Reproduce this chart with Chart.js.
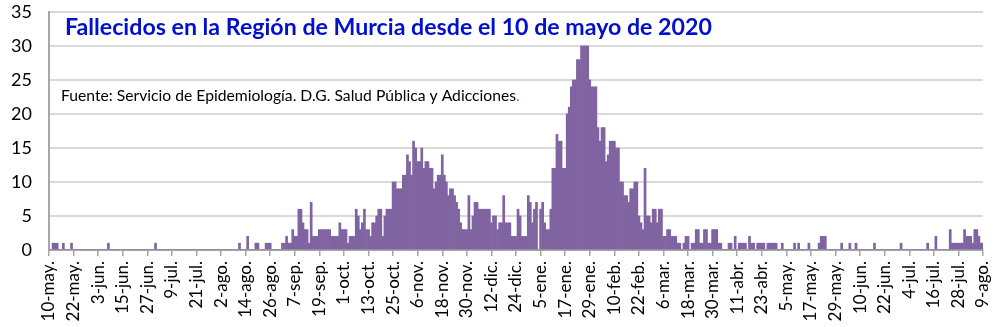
<!DOCTYPE html>
<html lang="es">
<head>
<meta charset="utf-8">
<title>Fallecidos en la Región de Murcia</title>
<script src="https://cdn.jsdelivr.net/npm/chart.js@4.4.1/dist/chart.umd.min.js"></script>
<style>
  html, body { margin: 0; padding: 0; background: #fff; }
  #contenedor { width: 1000px; height: 327px; }
</style>
</head>
<body>
<div id="contenedor"><canvas id="graficaFallecidos" width="1000" height="327"></canvas></div>
<script>
// Textos de la grafica
const titulo = "Fallecidos en la Región de Murcia desde el 10 de mayo de 2020";
const fuente = "Fuente: Servicio de Epidemiología. D.G. Salud Pública y Adicciones";

// Etiquetas del eje X (una cada 12 dias, desde el 10 de mayo de 2020)
const pasoEtiquetas = 12;
const etiquetasFecha = [
    "10-may.", "22-may.", "3-jun.", "15-jun.", "27-jun.", "9-jul.", "21-jul.", "2-ago.",
    "14-ago.", "26-ago.", "7-sep.", "19-sep.", "1-oct.", "13-oct.", "25-oct.", "6-nov.",
    "18-nov.", "30-nov.", "12-dic.", "24-dic.", "5-ene.", "17-ene.", "29-ene.", "10-feb.",
    "22-feb.", "6-mar.", "18-mar.", "30-mar.", "11-abr.", "23-abr.", "5-may.", "17-may.",
    "29-may.", "10-jun.", "22-jun.", "4-jul.", "16-jul.", "28-jul.", "9-ago."
];

// Eje Y
const maxEjeY = 35;
const pasoEjeY = 5;

// Fallecidos diarios (una fila = 12 dias, empezando en cada etiqueta)
const fallecidos = [
    0, 0, 1, 1, 1, 0, 0, 1, 0, 0, 0, 1,          // 10-may
    0, 0, 0, 0, 0, 0, 0, 0, 0, 0, 0, 0,          // 22-may
    0, 0, 0, 0, 0, 1, 0, 0, 0, 0, 0, 0,          // 3-jun
    0, 0, 0, 0, 0, 0, 0, 0, 0, 0, 0, 0,          // 15-jun
    0, 0, 0, 0, 1, 0, 0, 0, 0, 0, 0, 0,          // 27-jun
    0, 0, 0, 0, 0, 0, 0, 0, 0, 0, 0, 0,          // 9-jul
    0, 0, 0, 0, 0, 0, 0, 0, 0, 0, 0, 0,          // 21-jul
    0, 0, 0, 0, 0, 0, 0, 0, 0, 1, 0, 0,          // 2-ago
    0, 2, 0, 0, 0, 1, 1, 0, 0, 0, 1, 1,          // 14-ago
    1, 0, 0, 0, 0, 0, 1, 1, 2, 1, 1, 3,          // 26-ago
    2, 2, 6, 6, 4, 3, 3, 1, 7, 2, 2, 2,          // 7-sep
    3, 3, 3, 3, 3, 3, 2, 2, 2, 2, 4, 3,          // 19-sep
    3, 3, 1, 2, 2, 2, 6, 5, 3, 4, 6, 3,          // 1-oct
    3, 2, 4, 4, 5, 6, 6, 2, 5, 6, 6, 6,          // 13-oct
    10, 10, 9, 9, 9, 11, 11, 14, 13, 11, 16, 15, // 25-oct
    13, 13, 15, 12, 13, 13, 12, 12, 9, 10, 11, 11, // 6-nov
    14, 11, 10, 8, 9, 9, 8, 7, 6, 4, 3, 3,       // 18-nov
    3, 8, 3, 5, 7, 7, 6, 6, 6, 6, 6, 6,          // 30-nov
    4, 5, 5, 3, 4, 4, 8, 4, 4, 4, 2, 2,          // 12-dic
    2, 6, 5, 2, 2, 2, 8, 7, 4, 6, 7, 0,          // 24-dic
    6, 7, 4, 3, 3, 6, 12, 12, 17, 16, 16, 12,    // 5-ene
    12, 20, 21, 24, 25, 25, 28, 28, 30, 30, 30, 30, // 17-ene
    25, 24, 24, 24, 18, 16, 18, 18, 13, 14, 16, 16, // 29-ene
    16, 15, 15, 10, 10, 8, 8, 7, 9, 9, 10, 10,   // 10-feb
    5, 4, 3, 12, 5, 5, 4, 6, 6, 4, 6, 6,         // 22-feb
    2, 2, 3, 3, 2, 2, 2, 1, 1, 0, 1, 2,          // 6-mar
    2, 0, 1, 1, 3, 3, 1, 1, 3, 3, 1, 1,          // 18-mar
    3, 3, 3, 1, 1, 0, 0, 0, 1, 1, 0, 2,          // 30-mar
    0, 1, 1, 1, 1, 0, 2, 1, 1, 0, 1, 1,          // 11-abr
    1, 1, 0, 1, 1, 1, 1, 1, 0, 0, 1, 0,          // 23-abr
    0, 0, 0, 0, 1, 0, 1, 0, 0, 0, 0, 1,          // 5-may
    0, 0, 0, 0, 1, 2, 2, 2, 0, 0, 0, 0,          // 17-may
    0, 0, 0, 1, 0, 0, 0, 1, 0, 0, 1, 0,          // 29-may
    0, 0, 0, 0, 0, 0, 0, 1, 0, 0, 0, 0,          // 10-jun
    0, 0, 0, 0, 0, 0, 0, 0, 1, 0, 0, 0,          // 22-jun
    0, 0, 0, 0, 0, 0, 0, 0, 0, 1, 0, 0,          // 4-jul
    0, 2, 0, 0, 0, 0, 0, 0, 3, 1, 1, 1,          // 16-jul
    1, 1, 1, 3, 2, 2, 2, 1, 3, 3, 2, 1,          // 28-jul
    1                                            // 9-ago
];

const colorBarras = '#8064A2';
const colorEje = '#A6A6A6';
const colorRejilla = '#D9D9D9';

// Ajusta el tamaño de letra para que el texto ocupe el ancho indicado
function fuenteAjustada(ctx, texto, peso, familia, ancho) {
    ctx.font = `${peso} 20px ${familia}`;
    const tam = 20 * ancho / ctx.measureText(texto).width;
    return `${peso} ${tam.toFixed(2)}px ${familia}`;
}

// Titulo y fuente dibujados dentro del area del grafico
const textosInternos = {
    id: 'textosInternos',
    afterDraw(chart) {
        const ctx = chart.ctx;
        ctx.save();
        ctx.textBaseline = 'alphabetic';
        ctx.textAlign = 'left';

        ctx.font = fuenteAjustada(ctx, titulo, 'bold', 'Lato', 647);
        ctx.fillStyle = '#0010CC';
        ctx.fillText(titulo, 65, 35);

        ctx.font = fuenteAjustada(ctx, fuente, 'normal', 'Lato', 455);
        ctx.fillStyle = '#000000';
        ctx.fillText(fuente, 61, 101);
        const anchoFuente = ctx.measureText(fuente).width;
        ctx.fillStyle = '#E46C0A';
        ctx.fillText('.', 61 + anchoFuente, 101);
        ctx.restore();
    }
};

const ctx = document.getElementById('graficaFallecidos').getContext('2d');

new Chart(ctx, {
    type: 'bar',
    data: {
        datasets: [{
            label: 'Fallecidos',
            data: fallecidos.map((valor, dia) => ({ x: dia, y: valor })),
            backgroundColor: colorBarras,
            borderWidth: 0,
            barPercentage: 1,
            categoryPercentage: 1
        }]
    },
    options: {
        responsive: false,
        animation: false,
        devicePixelRatio: 1,
        layout: { padding: { top: 12, right: 17, left: 0, bottom: 0 } },
        plugins: {
            legend: { display: false },
            tooltip: { enabled: false }
        },
        scales: {
            x: {
                type: 'linear',
                offset: false,
                min: 0,
                max: (etiquetasFecha.length - 1) * pasoEtiquetas,
                afterFit: (escala) => {
                    escala.height = 77;
                    escala.paddingLeft = 0;
                    escala.paddingRight = 0;
                },
                border: { display: true, color: colorEje, width: 2 },
                grid: {
                    offset: false,
                    drawOnChartArea: false,
                    drawTicks: true,
                    tickLength: 6,
                    color: colorEje,
                    tickColor: colorEje,
                    lineWidth: 1.5
                },
                ticks: {
                    stepSize: pasoEtiquetas,
                    maxTicksLimit: etiquetasFecha.length,
                    autoSkip: false,
                    minRotation: 90,
                    maxRotation: 90,
                    padding: 5,
                    color: '#000000',
                    font: { family: 'Lato', size: 17 },
                    callback: (valor) => etiquetasFecha[Math.round(valor / pasoEtiquetas)] ?? ''
                }
            },
            y: {
                min: 0,
                max: maxEjeY,
                afterFit: (escala) => {
                    escala.width = 49;
                    escala.paddingTop = 0;
                    escala.paddingBottom = 0;
                },
                border: { display: true, color: colorEje, width: 2 },
                grid: {
                    color: colorRejilla,
                    lineWidth: 2,
                    drawTicks: false
                },
                ticks: {
                    stepSize: pasoEjeY,
                    padding: 17,
                    color: '#000000',
                    font: { family: 'Lato', size: 18 }
                }
            }
        }
    },
    plugins: [textosInternos]
});
</script>
</body>
</html>
